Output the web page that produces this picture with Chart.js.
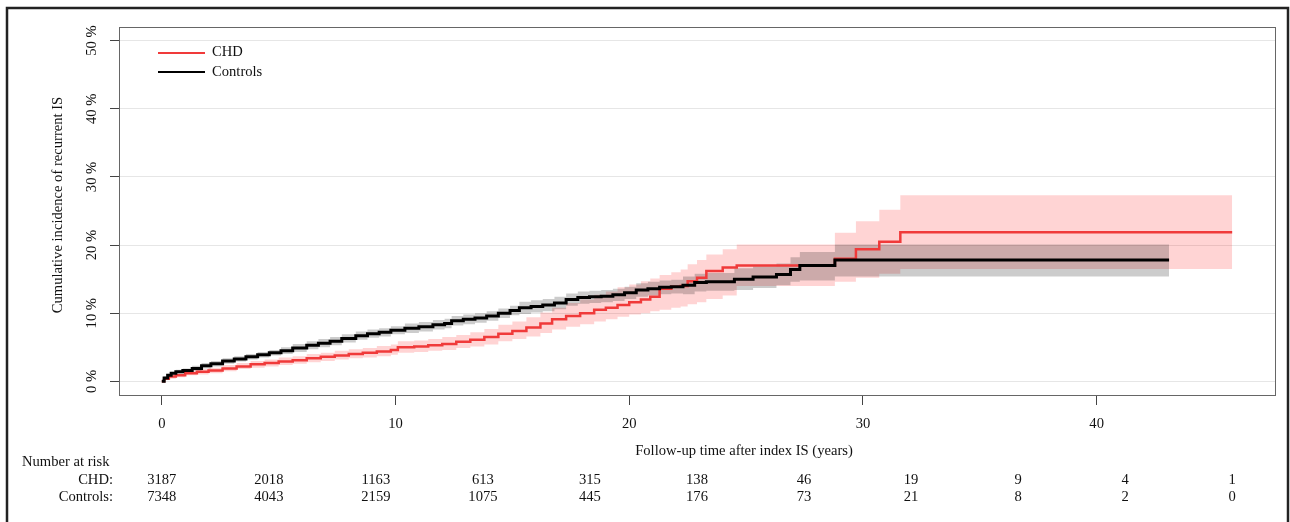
<!DOCTYPE html>
<html>
<head>
<meta charset="utf-8">
<script src="https://cdn.jsdelivr.net/npm/chart.js@4/dist/chart.umd.min.js"></script>
<style>
  html, body { margin: 0; padding: 0; background: #fff; }
  canvas { display: block; }
</style>
</head>
<body>
<canvas id="myChart" width="1290" height="522"></canvas>
<script>
// cumulative incidence of recurrent IS (%)

// controls
const ctrlTime = [0,0.1,0.25,0.4,0.6,0.9,1.3,1.7,2.1,2.6,3.1,3.6,4.1,4.6,5.1,5.6,6.2,6.7,7.2,7.7,8.3,8.8,9.3,9.8,10.4,11.0,11.6,12.1,12.4,12.9,13.4,13.9,14.4,14.9,15.3,15.8,16.3,16.8,17.3,17.8,18.3,18.8,19.3,19.8,20.3,20.8,21.3,21.8,22.3,22.8,23.3,24.5,25.3,26.3,26.9,27.3,28.8,43.1];
const ctrlEst  = [0,0.5,0.9,1.2,1.4,1.6,1.9,2.3,2.6,3.0,3.3,3.6,3.9,4.2,4.5,4.9,5.3,5.6,5.9,6.3,6.7,7.0,7.2,7.5,7.8,8.0,8.3,8.5,8.9,9.1,9.3,9.6,10.0,10.4,10.8,11.0,11.2,11.5,12.0,12.3,12.4,12.5,12.7,13.0,13.4,13.6,13.8,13.9,14.1,14.5,14.6,15.0,15.3,15.7,16.4,17.0,17.8,17.8];
const ctrlLow  = [0,0.3,0.7,1.0,1.2,1.3,1.5,1.9,2.2,2.6,2.9,3.2,3.5,3.8,4.0,4.3,4.7,5.0,5.3,5.7,6.1,6.4,6.6,6.9,7.1,7.3,7.6,7.8,8.2,8.4,8.6,8.9,9.3,9.7,9.9,10.1,10.3,10.6,11.1,11.4,11.5,11.6,11.8,12.1,12.4,12.6,12.8,12.9,12.8,13.2,13.3,13.4,13.7,14.1,14.6,14.8,15.4,15.4];
const ctrlHigh = [0,0.7,1.1,1.4,1.7,1.9,2.3,2.7,3.0,3.4,3.7,4.0,4.3,4.6,5.0,5.5,5.9,6.2,6.5,6.9,7.3,7.6,7.8,8.1,8.5,8.7,9.0,9.2,9.6,9.8,10.0,10.3,10.7,11.1,11.7,11.9,12.1,12.4,12.9,13.2,13.3,13.4,13.6,13.9,14.4,14.6,14.8,14.9,15.4,15.8,15.9,16.6,16.9,17.3,18.2,19.0,20.1,20.1];

// CHD
const chdTime = [0,0.1,0.3,0.6,1.0,1.5,2.0,2.6,3.2,3.8,4.4,5.0,5.6,6.2,6.8,7.4,8.0,8.6,9.2,9.8,10.1,10.8,11.4,12.0,12.6,13.2,13.8,14.4,15.0,15.6,16.2,16.7,17.3,17.9,18.5,19.0,19.5,20.0,20.5,20.9,21.3,21.8,22.2,22.5,22.9,23.3,24.0,24.6,28.8,29.7,30.7,31.6,45.8];
const chdEst  = [0,0.4,0.7,0.9,1.2,1.4,1.6,1.9,2.2,2.5,2.7,2.9,3.1,3.4,3.6,3.8,4.0,4.2,4.4,4.6,5.0,5.1,5.3,5.5,5.8,6.1,6.5,7.0,7.4,7.9,8.5,9.1,9.6,10.0,10.5,10.8,11.2,11.6,12.0,12.4,13.6,13.9,14.0,14.7,15.2,16.2,16.7,17.0,18.0,19.4,20.5,21.9,21.9];
const chdLow  = [0,0.2,0.4,0.6,0.9,1.0,1.2,1.5,1.8,2.0,2.2,2.4,2.6,2.8,3.0,3.2,3.4,3.5,3.7,3.9,4.2,4.3,4.5,4.6,4.9,5.1,5.4,5.9,6.2,6.6,7.1,7.6,8.0,8.4,8.8,9.1,9.5,9.8,10.0,10.3,10.5,10.8,11.0,11.3,11.6,12.1,12.6,14.0,14.6,15.2,15.8,16.5,16.5];
const chdHigh = [0,0.6,1.0,1.2,1.5,1.8,2.0,2.4,2.7,3.0,3.2,3.5,3.7,4.0,4.2,4.5,4.7,4.9,5.2,5.4,5.9,6.0,6.2,6.5,6.8,7.2,7.7,8.3,8.8,9.4,10.1,10.8,11.5,12.0,12.7,13.2,13.8,14.2,14.7,15.1,15.6,16.0,16.4,17.2,17.8,18.6,19.4,20.1,21.8,23.5,25.2,27.3,27.3];

// number at risk table
const riskTimes = [0,4.58,9.16,13.74,18.32,22.9,27.48,32.06,36.64,41.22,45.8];
const riskChd   = [3187,2018,1163,613,315,138,46,19,9,4,1];
const riskCtrl  = [7348,4043,2159,1075,445,176,73,21,8,2,0];

const xTicks = [0,10,20,30,40];
const yTicks = [0,10,20,30,40,50];

const SERIF = '"Liberation Serif", "Times New Roman", serif';
const FONT_PX = 14.6;

function pts(xs, ys) {
    return xs.map((x, i) => ({ x: x, y: ys[i] }));
}

// frame, box, legend, rotated y labels and risk table
const extras = {
    id: 'extras',
    afterDraw(c) {
        const ctx = c.ctx;
        const a = c.chartArea;
        const xs = c.scales.x;
        const ys = c.scales.y;
        ctx.save();

        // outer frame
        ctx.strokeStyle = '#222';
        ctx.lineWidth = 2.5;
        ctx.strokeRect(7, 8, 1281, 560);

        // plot box
        ctx.strokeStyle = '#666';
        ctx.lineWidth = 1;
        ctx.strokeRect(a.left + 0.5, a.top + 0.5, a.right - a.left, a.bottom - a.top);

        ctx.fillStyle = '#111';
        ctx.font = FONT_PX + 'px ' + SERIF;

        // y tick labels (vertical, as in R)
        yTicks.forEach(v => {
            const py = ys.getPixelForValue(v);
            ctx.save();
            ctx.translate(92, py);
            ctx.rotate(-Math.PI / 2);
            ctx.textAlign = 'center';
            ctx.textBaseline = 'middle';
            ctx.fillText(v + ' %', 0, 0);
            ctx.restore();
        });

        // y title
        ctx.save();
        ctx.translate(58, (a.top + a.bottom) / 2 - 6);
        ctx.rotate(-Math.PI / 2);
        ctx.textAlign = 'center';
        ctx.textBaseline = 'middle';
        ctx.fillText('Cumulative incidence of recurrent IS', 0, 0);
        ctx.restore();

        // x title
        ctx.textAlign = 'center';
        ctx.textBaseline = 'middle';
        ctx.fillText('Follow-up time after index IS (years)', 744, 451);

        // legend
        ctx.lineWidth = 2;
        ctx.strokeStyle = '#f03a3a';
        ctx.beginPath(); ctx.moveTo(158, 53); ctx.lineTo(205, 53); ctx.stroke();
        ctx.strokeStyle = '#000';
        ctx.beginPath(); ctx.moveTo(158, 72); ctx.lineTo(205, 72); ctx.stroke();
        ctx.textAlign = 'left';
        ctx.fillText('CHD', 212, 52);
        ctx.fillText('Controls', 212, 72);

        // number at risk
        ctx.fillText('Number at risk', 22, 462);
        ctx.textAlign = 'right';
        ctx.fillText('CHD:', 113, 480);
        ctx.fillText('Controls:', 113, 497);
        ctx.textAlign = 'center';
        riskTimes.forEach((t, i) => {
            const px = xs.getPixelForValue(t);
            ctx.fillText(String(riskChd[i]), px, 480);
            ctx.fillText(String(riskCtrl[i]), px, 497);
        });

        ctx.restore();
    }
};

const ctx = document.getElementById('myChart').getContext('2d');
const chart = new Chart(ctx, {
    type: 'line',
    data: {
        datasets: [
            {   // 0: CHD lower bound
                label: 'CHD lower',
                data: pts(chdTime, chdLow),
                stepped: 'before',
                borderWidth: 0,
                pointRadius: 0,
                fill: false,
                order: 10
            },
            {   // 1: CHD upper bound, filled down to lower
                label: 'CHD upper',
                data: pts(chdTime, chdHigh),
                stepped: 'before',
                borderWidth: 0,
                pointRadius: 0,
                backgroundColor: 'rgba(255,0,0,0.17)',
                fill: 0,
                order: 9
            },
            {   // 2: controls lower bound
                label: 'Controls lower',
                data: pts(ctrlTime, ctrlLow),
                stepped: 'before',
                borderWidth: 0,
                pointRadius: 0,
                fill: false,
                order: 8
            },
            {   // 3: controls upper bound
                label: 'Controls upper',
                data: pts(ctrlTime, ctrlHigh),
                stepped: 'before',
                borderWidth: 0,
                pointRadius: 0,
                backgroundColor: 'rgba(0,0,0,0.2)',
                fill: 2,
                order: 7
            },
            {
                label: 'CHD',
                data: pts(chdTime, chdEst),
                stepped: 'before',
                borderColor: '#f03a3a',
                borderWidth: 2.5,
                pointRadius: 0,
                fill: false,
                order: 2
            },
            {
                label: 'Controls',
                data: pts(ctrlTime, ctrlEst),
                stepped: 'before',
                borderColor: '#000',
                borderWidth: 3,
                pointRadius: 0,
                fill: false,
                order: 1
            }
        ]
    },
    options: {
        responsive: false,
        animation: false,
        layout: { padding: { left: 0, right: 15, top: 27, bottom: 0 } },
        plugins: {
            legend: { display: false },
            tooltip: { enabled: false }
        },
        scales: {
            x: {
                type: 'linear',
                min: -1.832,
                max: 47.632,
                afterBuildTicks: s => { s.ticks = xTicks.map(v => ({ value: v })); },
                afterFit: s => { s.height = 127; },
                border: { display: false },
                grid: { drawOnChartArea: false, drawTicks: true, tickLength: 10, tickColor: '#444' },
                ticks: { color: '#111', padding: 10, maxRotation: 0, font: { family: SERIF, size: FONT_PX } }
            },
            y: {
                type: 'linear',
                min: -2,
                max: 52,
                afterBuildTicks: s => { s.ticks = yTicks.map(v => ({ value: v })); },
                afterFit: s => { s.width = 119; },
                border: { display: false },
                grid: { color: '#e6e6e6', lineWidth: 1, drawTicks: true, tickLength: 9, tickColor: '#444' },
                ticks: { display: false }
            }
        }
    },
    plugins: [extras]
});
</script>
</body>
</html>
